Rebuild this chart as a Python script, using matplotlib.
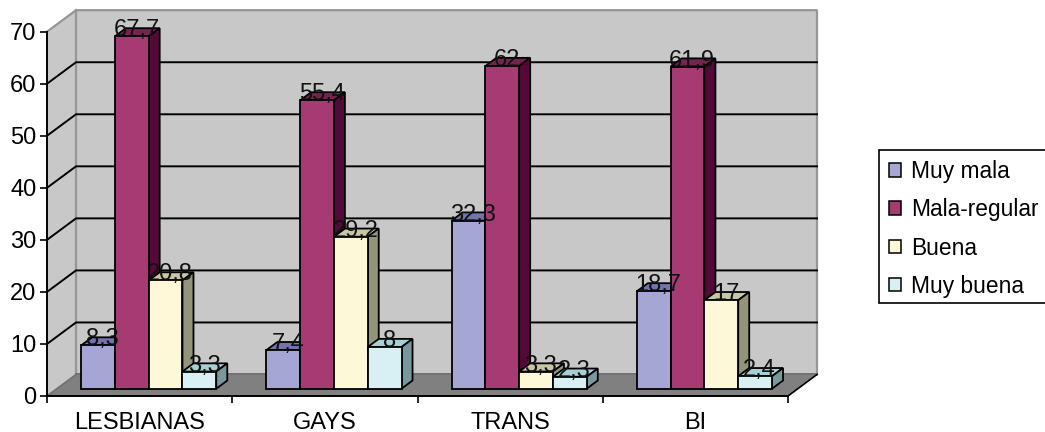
import matplotlib
matplotlib.use('Agg')
import matplotlib.pyplot as plt
from matplotlib.patches import Patch, Polygon, Rectangle

categories = ['LESBIANAS', 'GAYS', 'TRANS', 'BI']
series_names = ['Muy mala', 'Mala-regular', 'Buena', 'Muy buena']
muy_mala = [8.3, 7.4, 32.3, 18.7]
mala_regular = [67.7, 55.4, 62, 61.9]
buena = [20.8, 29.2, 3.3, 17]
muy_buena = [3.3, 8, 2.3, 2.4]
y_ticks = [0, 10, 20, 30, 40, 50, 60, 70]

W, H = 1045, 432
plt.rcParams['font.family'] = ['Liberation Sans', 'DejaVu Sans']
FS = 17

front_colors = ['#A6A6D4', '#A63A72', '#FDF8D8', '#D8F0F4']
top_colors = ['#7474AC', '#74244E', '#C8C6A4', '#A8D0D4']
side_colors = ['#62628E', '#540A38', '#94947A', '#78989C']

fig = plt.figure(figsize=(W / 100, H / 100), dpi=100)
ax = fig.add_axes([47 / W, 1 - 396 / H, (788 - 47) / W, 364.3 / H])
ax.set_xlim(0, 4)
ax.set_ylim(0, 70)
ax.patch.set_visible(False)

# depth of the 3d box, in data units
DX = 29 / 185.25
DY = 21.5 / 5.204
BAR_W = 33.8 / 185.25
MARGIN = 24.2 / 185.25
D0, D1 = 0.34, 0.72


def poly(pts, color, z, ec='none', lw=0):
    ax.add_patch(Polygon(pts, closed=True, facecolor=color, edgecolor=ec, linewidth=lw,
                         clip_on=False, zorder=z, joinstyle='miter'))


# walls and floor
poly([(0, 0), (DX, DY), (DX, 70 + DY), (0, 70)], '#C8C8C8', 1)
poly([(DX, DY), (4 + DX, DY), (4 + DX, 70 + DY), (DX, 70 + DY)], '#C8C8C8', 1)
poly([(0, 0), (4, 0), (4 + DX, DY), (DX, DY)], '#808080', 1.1)

gray = '#969696'
ax.plot([0, DX, 4 + DX, 4 + DX], [70, 70 + DY, 70 + DY, DY], color=gray, lw=1.6, clip_on=False, zorder=1.2)
ax.plot([DX, DX], [DY, 70 + DY], color=gray, lw=1.6, clip_on=False, zorder=1.2)
ax.plot([DX, 4 + DX], [DY, DY], color='#707070', lw=1.4, clip_on=False, zorder=1.2)
ax.plot([0, DX], [0, DY], color='#707070', lw=1.2, clip_on=False, zorder=1.2)
ax.plot([4, 4 + DX], [0, DY], color='black', lw=1.2, clip_on=False, zorder=1.3)

for t in y_ticks[1:-1]:
    ax.plot([0, DX, 4 + DX], [t, t + DY, t + DY], color='black', lw=1.4, clip_on=False, zorder=1.5)

all_series = [muy_mala, mala_regular, buena, muy_buena]
z = 3
for c in range(len(categories)):
    for s, values in enumerate(all_series):
        val = values[c]
        x0 = c + MARGIN + D0 * DX + s * BAR_W
        x1 = x0 + BAR_W
        base = D0 * DY
        top = base + val
        shift_x = (D1 - D0) * DX
        shift_y = (D1 - D0) * DY
        poly([(x0, top), (x0 + shift_x, top + shift_y), (x1 + shift_x, top + shift_y), (x1, top)],
             top_colors[s], z, 'black', 1.3)
        poly([(x1, base), (x1 + shift_x, base + shift_y), (x1 + shift_x, top + shift_y), (x1, top)],
             side_colors[s], z, 'black', 1.3)
        ax.bar(x0, val, width=BAR_W, bottom=base, align='edge', color=front_colors[s],
               edgecolor='black', linewidth=1.3, zorder=z + 0.1, clip_on=False)
        ax.text((x0 + x1) / 2 + 0.025, top, f'{val}'.replace('.', ','), ha='center', va='baseline',
                fontsize=FS, color='#111111', zorder=60)
        z += 0.2

for side in ['top', 'right']:
    ax.spines[side].set_visible(False)
for side in ['left', 'bottom']:
    ax.spines[side].set_linewidth(1.4)
    ax.spines[side].set_zorder(2.5)

ax.set_yticks(y_ticks)
ax.tick_params(axis='y', labelsize=FS, length=5, width=1.2, pad=2.5)
ax.set_xticks([0, 1, 2, 3, 4])
ax.set_xticklabels([])
ax.set_xticks([0.5, 1.5, 2.5, 3.5], minor=True)
ax.set_xticklabels(categories, minor=True, fontsize=FS)
ax.tick_params(axis='x', which='major', length=5, width=1.2)
ax.tick_params(axis='x', which='minor', length=0, pad=11.5)

# legend box runs off the right edge in the original
fig.add_artist(Rectangle((879 / W, 1 - 303 / H), 175 / W, 153 / H, transform=fig.transFigure,
                         facecolor='white', edgecolor='black', linewidth=1.2))
handles = [Patch(facecolor=front_colors[i], edgecolor='black', linewidth=1.1) for i in range(4)]
leg = fig.legend(handles, series_names, loc='upper left', bbox_to_anchor=(889 / W, 1 - 160 / H),
                 frameon=False, fontsize=16.4, borderpad=0, borderaxespad=0, handlelength=0.53,
                 handleheight=0.53, handletextpad=0.45, labelspacing=0.67)

fig.savefig('out.png', dpi=100)
